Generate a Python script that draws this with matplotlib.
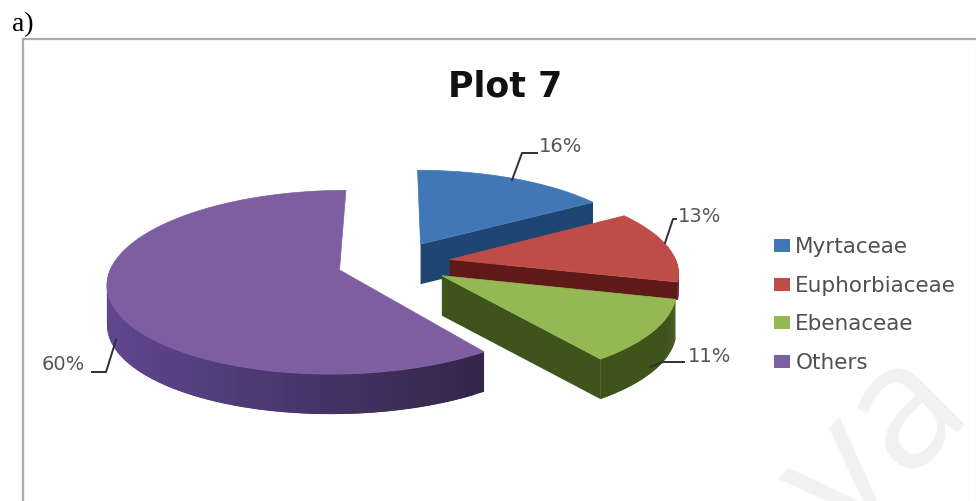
import numpy as np
import matplotlib
matplotlib.use("Agg")
import matplotlib.pyplot as plt
from matplotlib.patches import Polygon, Patch

families = ["Myrtaceae", "Euphorbiaceae", "Ebenaceae", "Others"]
shares = [16, 13, 11, 60]

top_colors = ["#4177B6", "#BE4C49", "#94B954", "#7D5FA1"]
side_colors = ["#1F4672", "#5F1A18", "#3F541B", "#614690"]
rim_dark = ["#1F4672", "#5F1A18", "#3F541B", "#33264A"]

# pixel geometry of the tilted pie
cx, cy = 394, 263
rx, ry = 227, 88.4
persp = 0.133
explode = 0.25
depth = [40, 18, 40, 40]

plt.rcParams["font.family"] = ["DejaVu Sans"]


def project(u, v):
    s = 1 / (1 + persp * v)
    return cx + rx * u * s, cy - ry * v * s


def mix(c1, c2, t):
    a = np.array(matplotlib.colors.to_rgb(c1))
    b = np.array(matplotlib.colors.to_rgb(c2))
    return tuple(a + (b - a) * t)


fig = plt.figure(figsize=(9.76, 5.01), dpi=100)
ax = fig.add_axes([0, 0, 1, 1])
ax.set_xlim(0, 976)
ax.set_ylim(501, 0)
ax.axis("off")

# chart frame
ax.plot([23, 23, 976], [501, 38.5, 38.5], color="#ababab", lw=1.6, zorder=1, solid_joinstyle="miter")
ax.plot([975.5, 975.5], [38, 501], color="#d8d8d8", lw=0.8, zorder=1)

ax.text(12, 31, "a)", family=["Liberation Serif"], fontsize=20, color="black")
ax.text(505, 96, "Plot 7", fontsize=25, fontweight="bold", color="#111111", ha="center", zorder=5)

# faint stamp in the lower right corner
ax.text(878, 447, "va", fontsize=126, color="#f1f1f1", rotation=45, ha="center", va="center",
        rotation_mode="anchor", family=["Open Sans"], zorder=0)

start = 0.0
for i, share in enumerate(shares):
    sweep = share / sum(shares) * 2 * np.pi
    theta = np.linspace(start, start + sweep, 80)
    mid = start + sweep / 2
    ou, ov = explode * np.sin(mid), explode * np.cos(mid)
    ru, rv = ou + np.sin(theta), ov + np.cos(theta)
    ax0, ay0 = project(ou, ov)
    xs, ys = project(ru, rv)
    d = depth[i]

    # trailing cut face, only the small slices show it
    if share < 50:
        ax.add_patch(Polygon([(ax0, ay0), (xs[-1], ys[-1]), (xs[-1], ys[-1] + d), (ax0, ay0 + d)],
                             fc=side_colors[i], ec="none", zorder=2 + i))

    # outer rim as shaded strips, front half only, each one overlapping the next
    front = np.where(np.cos(theta) < 0.02)[0]
    for j in front[:-1]:
        t = (xs[j] - 107) / (487 - 107)
        col = mix(side_colors[i], rim_dark[i], np.clip(t, 0, 1))
        k = min(j + 2, len(xs) - 1)
        ax.add_patch(Polygon([(xs[j], ys[j]), (xs[k], ys[k]), (xs[k], ys[k] + d), (xs[j], ys[j] + d)],
                             fc=col, ec="none", zorder=2 + i))

    # top face
    ax.add_patch(Polygon(np.column_stack([np.r_[ax0, xs], np.r_[ay0, ys]]),
                         fc=top_colors[i], ec=top_colors[i], lw=0.5, zorder=2 + i))
    start += sweep

# percentage labels with their leader lines
leader_x = [[512, 522, 537], [665, 673, 676], [650, 663, 684], [116, 106, 92]]
leader_y = [[180, 153, 153], [243, 219, 219], [367, 362, 362], [340, 372, 372]]
label_x = [561, 700, 710, 63]
label_y = [147, 216, 357, 365]
for i, share in enumerate(shares):
    ax.plot(leader_x[i], leader_y[i], color="#303030", lw=1.4, zorder=8)
    ax.text(label_x[i], label_y[i], f"{share}%", fontsize=14, color="#555555",
            ha="center", va="center", zorder=8)

handles = [Patch(fc=c, ec="none") for c in top_colors]
ax.legend(handles, families, loc="upper left", bbox_to_anchor=(774, 237), bbox_transform=ax.transData,
          frameon=False, fontsize=15.5, handlelength=0.74, handleheight=0.56, handletextpad=0.25,
          labelspacing=0.87, labelcolor="#505050", borderpad=0, borderaxespad=0)

fig.savefig("out.png", dpi=100)
